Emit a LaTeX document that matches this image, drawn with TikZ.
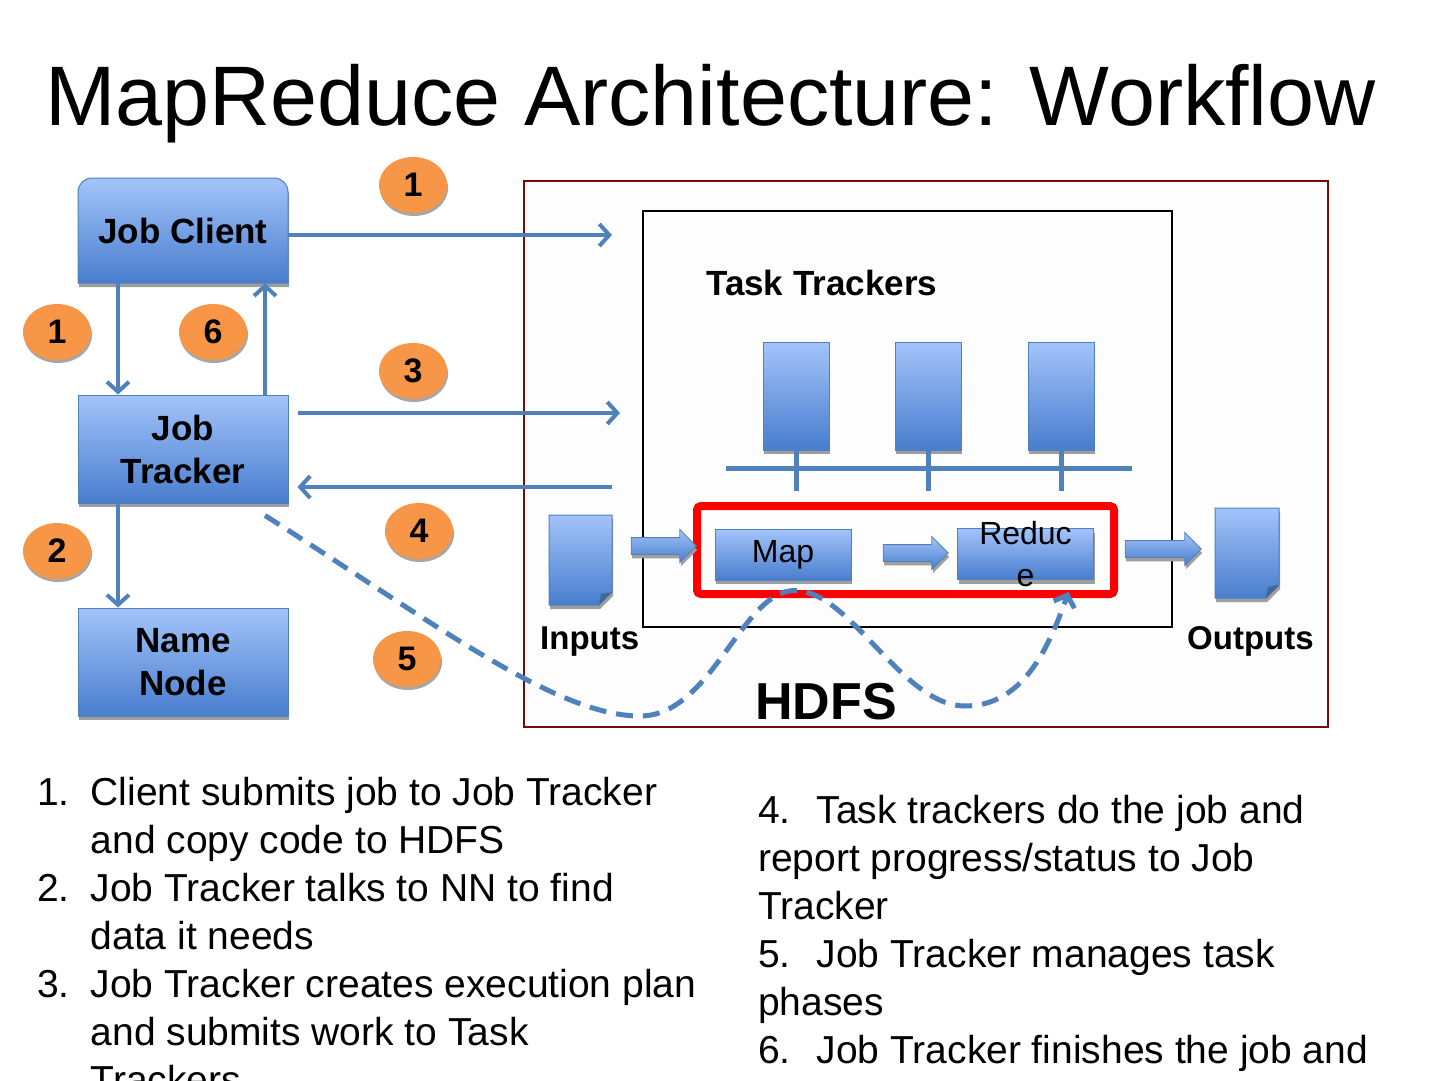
\documentclass[tikz,border=0pt]{standalone}
\usepackage{fontspec}
\setmainfont{Liberation Sans}
\usetikzlibrary{positioning, arrows.meta, shapes.geometric, shapes.arrows, shadows, calc}
\definecolor{mrblue}{RGB}{79,129,189}
\definecolor{mrtop}{RGB}{163,196,250}
\definecolor{mrbot}{RGB}{72,125,205}
\definecolor{mrorange}{RGB}{247,150,70}
\definecolor{mrframe}{RGB}{120,10,10}
\definecolor{mrpaper}{RGB}{253,253,253}

\tikzset{
  boxshade/.style={top color=mrtop, bottom color=mrbot, draw=mrblue, line width=1pt},
  boxshadow/.style={drop shadow={shadow xshift=1pt, shadow yshift=-4pt, fill=black!38, opacity=1}},
  hadoopbox/.style={boxshade, boxshadow, minimum width=210pt, minimum height=108pt,
    inner sep=0pt, align=center, font=\fontsize{35}{43}\selectfont\bfseries},
  trackerbox/.style={boxshade, boxshadow, minimum width=66pt, minimum height=108pt, inner sep=0pt},
  phasebox/.style={boxshade, boxshadow, minimum width=136pt, minimum height=51pt,
    inner sep=0pt, font=\fontsize{32}{42}\selectfont},
  blockarrow/.style={single arrow, boxshade, line width=0.8pt, boxshadow, inner xsep=0pt, inner ysep=8pt,
    minimum height=#1, minimum width=32pt, single arrow head extend=8pt},
  stepbadge/.style={ellipse, fill=mrorange, minimum width=68pt, minimum height=56pt, inner sep=0pt,
    drop shadow={shadow xshift=1pt, shadow yshift=-3pt, fill=black!35, opacity=1},
    font=\fontsize{34}{34}\selectfont\bfseries},
  flowline/.style={draw=mrblue, line width=4pt, -{Straight Barb[length=10pt, width=22pt]}},
  busline/.style={draw=mrblue, line width=5pt},
  dashflow/.style={draw=mrblue, line width=5pt, dash pattern=on 17pt off 10pt,
    -{Straight Barb[length=10pt, width=22pt]}},
  listtext/.style={inner sep=0pt, font=\fontsize{39}{48}\selectfont},
  boldlabel/.style={inner sep=0pt, anchor=base west, font=\fontsize{#1}{#1}\selectfont\bfseries}
}

\begin{document}
\begin{tikzpicture}[x=1pt, y=-1pt]
  \useasboundingbox (0,0) rectangle (1440,1080);
  \clip (0,0) rectangle (1440,1080);
  \fill[white] (0,0) rectangle (1440,1080);

  \node[anchor=base west, inner sep=0pt, font=\fontsize{84.5}{85}\selectfont] (title) at (45,125)
    {MapReduce Architecture: Workflow};

  % HDFS and task tracker frames
  \draw[draw=mrframe, line width=2pt, fill=mrpaper] (524,181) rectangle (1328,727);
  \draw[draw=black, line width=1.5pt, fill=mrpaper] (643,211) rectangle (1172,627);
  \node[boldlabel=35] (ttlabel) at (706,295) {Task Trackers};
  \node[boldlabel=52] (hdfs) at (755,719) {HDFS};

  % task trackers on their bus
  \foreach \x [count=\i] in {796,928,1061}
    \node[trackerbox] (tt\i) at (\x,396) {};
  \coordinate (busW) at (726,468);
  \coordinate (busE) at (1132,468);
  \draw[busline] (busW) -- (busE);
  \foreach \i in {1,2,3}
    \draw[busline] (tt\i.south) -- ++(0,40);

  % map and reduce phase
  \node[draw=red, line width=8pt, rounded corners=4pt, minimum width=417pt, minimum height=88pt]
    (phase) at (905.5,550) {};
  \node[phasebox] (map) at (783,554.5) {Map};
  \node[phasebox] (reduce) at (1025.5,554) {};
  \node[align=center, inner sep=0pt, font=\fontsize{32}{42}\selectfont] (reducetext)
    at (reduce.center) {Reduc\\e};
  \node[blockarrow=65pt] (in2map) at (659.5,546) {};
  \node[blockarrow=65pt] (map2red) at (911.5,553) {};
  \node[blockarrow=76pt] (red2out) at (1159,549) {};

  % input and output files
  \path[boxshade, boxshadow] (549,515) -- (612,515) -- (612,592) -- (599,605) -- (549,605) -- cycle;
  \fill[mrblue!80!black] (612,592) -- (599,605) -- (601,594) -- cycle;
  \path[boxshade, boxshadow] (1215,508) -- (1279,508) -- (1279,585) -- (1266,598) -- (1215,598) -- cycle;
  \fill[mrblue!80!black] (1279,585) -- (1266,598) -- (1268,587) -- cycle;
  \node[boldlabel=33] (inputs) at (540,649) {Inputs};
  \node[boldlabel=33] (outputs) at (1187,649) {Outputs};

  % client, job tracker, name node
  \path[boxshade, boxshadow] (288,230) [rounded corners=14pt] -- (288,178) -- (78,178) -- (78,230)
    [sharp corners] -- (78,283) -- (288,283) -- cycle;
  \node[minimum width=210pt, minimum height=105pt, inner sep=0pt,
    font=\fontsize{35}{43}\selectfont\bfseries] (client) at (183,230.5) {Job Client};
  \node[hadoopbox] (tracker) at (183,449) {Job\\Tracker};
  \node[hadoopbox] (namenode) at (183,662) {Name\\Node};

  % connectors
  \coordinate (submitEnd) at (612,235);
  \coordinate (planEnd) at (620,413);
  \coordinate (reportStart) at (612,487);
  \draw[flowline] (client.east |- submitEnd) -- (submitEnd);
  \draw[flowline] ([xshift=-65pt]client.south) -- ([xshift=-65pt]tracker.north);
  \draw[flowline] ([xshift=82pt]tracker.north) -- ([xshift=82pt]client.south);
  \draw[flowline] ([xshift=9pt]tracker.east |- planEnd) -- (planEnd);
  \draw[flowline] (reportStart) -- ([xshift=9pt]tracker.east |- reportStart);
  \draw[flowline] ([xshift=-65pt]tracker.south) -- ([xshift=-65pt]namenode.north);

  % step numbers
  \node[stepbadge] (b1top) at (413,185) {1};
  \node[stepbadge] (b1left) at (57,332) {1};
  \node[stepbadge] (b6) at (213,332) {6};
  \node[stepbadge] (b3) at (413,371) {3};
  \node[stepbadge] (b4) at (419,531) {4};
  \node[stepbadge] (b2) at (57,551) {2};
  \node[stepbadge] (b5) at (407,659) {5};

  % task phase management
  \draw[dashflow] ([shift={(82pt,-12pt)}]tracker.south) .. controls (430,620) and (555,716) .. (640,716)
    .. controls (712,716) and (742,590) .. ([shift={(12pt,-10pt)}]map.south)
    .. controls (850,590) and (902,706) .. (965,706)
    .. controls (1022,706) and (1048,650) .. ([shift={(43pt,-12pt)}]reduce.south);

  % workflow steps
  \node[listtext, anchor=base west] (stepsleft) at (37,805) {%
    \begin{tabular}[t]{@{}l@{\hspace{21pt}}l@{}}
      1. & Client submits job to Job Tracker\\
         & and copy code to HDFS\\
      2. & Job Tracker talks to NN to find\\
         & data it needs\\
      3. & Job Tracker creates execution plan\\
         & and submits work to Task\\
         & Trackers
    \end{tabular}};
  \node[listtext, anchor=base west] (stepsright) at (758,823) {%
    \begin{tabular}[t]{@{}l@{}}
      4.\hspace{26pt}Task trackers do the job and\\
      report progress/status to Job\\
      Tracker\\
      5.\hspace{26pt}Job Tracker manages task\\
      phases\\
      6.\hspace{26pt}Job Tracker finishes the job and
    \end{tabular}};
\end{tikzpicture}
\end{document}
